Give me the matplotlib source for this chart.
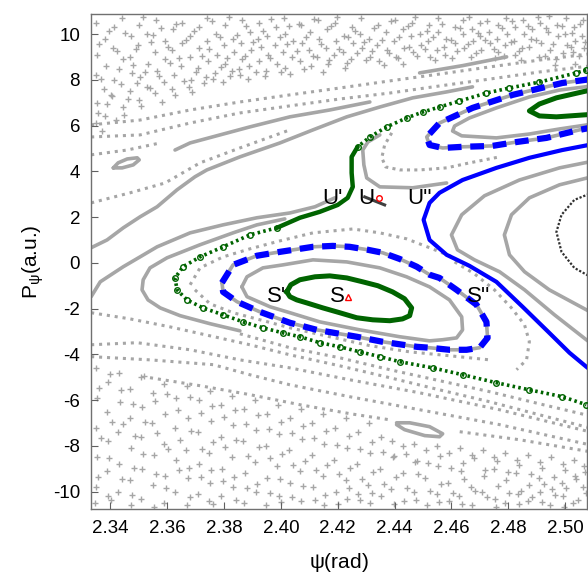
import matplotlib.pyplot as plt

# ---------------- data: psi (rad), P_psi (a.u.) ----------------
# stable island S (green)
s_psi = [2.4021, 2.4035, 2.4067, 2.4120, 2.4172, 2.4232, 2.4288, 2.4341, 2.4393, 2.4435, 2.4460,
         2.4453, 2.4428, 2.4383, 2.4323, 2.4267, 2.4207, 2.4148, 2.4091, 2.4056, 2.4032, 2.4021]
s_p = [-1.27, -0.96, -0.74, -0.61, -0.57, -0.66, -0.83, -1.00, -1.27, -1.57, -1.97,
       -2.31, -2.45, -2.53, -2.49, -2.40, -2.18, -1.97, -1.75, -1.62, -1.48, -1.27]

# blue dashed torus around S
bd_psi = [2.3793, 2.3832, 2.3916, 2.3997, 2.4113, 2.4183, 2.4242, 2.4306, 2.4358, 2.4418, 2.4478,
          2.4523, 2.4558, 2.4618, 2.4688, 2.4723, 2.4727, 2.4699, 2.4653, 2.4593, 2.4523, 2.4478,
          2.4358, 2.4267, 2.4127, 2.4032, 2.3926, 2.3846, 2.3797, 2.3793]
bd_p = [-0.87, -0.09, 0.31, 0.48, 0.70, 0.74, 0.70, 0.57, 0.44, 0.17, -0.17,
        -0.52, -0.66, -1.18, -1.83, -2.58, -3.28, -3.71, -3.80, -3.80, -3.71, -3.67,
        -3.45, -3.23, -2.93, -2.62, -2.14, -1.70, -1.27, -0.87]

# grey torus inside the blue one
gi_psi = [2.3863, 2.3881, 2.3937, 2.4007, 2.4113, 2.4232, 2.4348, 2.4442, 2.4523, 2.4593, 2.4636,
          2.4639, 2.4618, 2.4569, 2.4523, 2.4418, 2.4278, 2.4137, 2.4032, 2.3962, 2.3881, 2.3863]
gi_p = [-1.05, -0.61, -0.22, -0.09, 0.13, 0.04, -0.22, -0.61, -1.05, -1.62, -2.36,
        -2.93, -3.28, -3.36, -3.41, -3.23, -2.93, -2.58, -2.18, -1.92, -1.48, -1.05]

# green separatrix (chaotic layer through U')
sep_up_psi = [2.5074, 2.5039, 2.4909, 2.4804, 2.4723, 2.4628, 2.4558, 2.4499, 2.4442, 2.4372, 2.4313, 2.4270]
sep_up_p = [8.43, 8.30, 7.90, 7.64, 7.42, 7.07, 6.81, 6.59, 6.33, 5.94, 5.50, 5.07]
sep_core_psi = [2.4270, 2.4249, 2.4249, 2.4253, 2.4235, 2.4200, 2.4137, 2.4067, 2.3986]
sep_core_p = [5.07, 4.63, 3.93, 3.32, 2.84, 2.53, 2.23, 1.97, 1.53]
sep_lo_psi = [2.3986, 2.3891, 2.3797, 2.3716, 2.3656, 2.3628, 2.3635, 2.3670, 2.3726, 2.3797, 2.3867,
              2.3937, 2.4007, 2.4067, 2.4137, 2.4207, 2.4278, 2.4348, 2.4418, 2.4534, 2.4639, 2.4758,
              2.4874, 2.4990, 2.5074]
sep_lo_p = [1.53, 1.22, 0.70, 0.26, -0.17, -0.66, -1.18, -1.62, -1.97, -2.27, -2.58,
            -2.84, -3.06, -3.23, -3.49, -3.67, -3.89, -4.10, -4.32, -4.59, -4.89, -5.24,
            -5.55, -5.85, -6.20]

# upper right island (green), its blue dashed and grey tori
g2_psi = [2.5120, 2.5060, 2.4969, 2.4909, 2.4874, 2.4909, 2.4969, 2.5060, 2.5120]
g2_p = [7.64, 7.47, 7.21, 6.94, 6.64, 6.42, 6.38, 6.46, 6.51]
b2_psi = [2.5120, 2.4990, 2.4815, 2.4674, 2.4558, 2.4513, 2.4523, 2.4569, 2.4639, 2.4744, 2.4829,
          2.4934, 2.5050, 2.5120]
b2_p = [8.08, 7.86, 7.34, 6.77, 6.11, 5.50, 5.15, 5.02, 5.07, 5.11, 5.28, 5.46, 5.81, 5.98]
gr2_psi = [2.5120, 2.4980, 2.4874, 2.4758, 2.4663, 2.4611, 2.4604, 2.4636, 2.4758, 2.4874, 2.4980, 2.5120]
gr2_p = [7.77, 7.55, 7.25, 6.77, 6.33, 5.98, 5.76, 5.55, 5.46, 5.63, 5.85, 6.11]

# blue solid orbit through U''
bs_psi = [2.5120, 2.4990, 2.4874, 2.4758, 2.4639, 2.4558, 2.4523, 2.4502, 2.4523, 2.4583, 2.4663,
          2.4758, 2.4850, 2.4944, 2.5015, 2.5074, 2.5120]
bs_p = [5.24, 4.93, 4.59, 4.15, 3.62, 3.06, 2.62, 1.88, 1.00, 0.35, -0.13,
        -0.83, -1.92, -3.06, -3.93, -4.54, -4.98]

# grey / black orbits right of the blue one
r1_psi = [2.5120, 2.4980, 2.4839, 2.4716, 2.4636, 2.4600, 2.4621, 2.4681, 2.4769, 2.4857, 2.4962, 2.5074, 2.5120]
r1_p = [4.50, 4.15, 3.62, 2.93, 2.10, 1.22, 0.57, 0.13, -0.39, -1.18, -2.27, -3.36, -3.80]
r2_psi = [2.5120, 2.4980, 2.4874, 2.4811, 2.4786, 2.4804, 2.4857, 2.4944, 2.5074, 2.5120]
r2_p = [3.84, 3.41, 2.84, 2.10, 1.22, 0.35, -0.39, -1.18, -2.05, -2.40]
rk_psi = [2.5120, 2.5032, 2.4987, 2.4969, 2.4987, 2.5032, 2.5120]
rk_p = [3.19, 2.75, 2.10, 1.35, 0.48, -0.22, -0.83]

# grey orbits near U
h1_psi = [2.4348, 2.4306, 2.4288, 2.4292, 2.4302, 2.4348, 2.4464, 2.4583]
h1_p = [5.59, 5.28, 4.93, 4.28, 3.71, 3.32, 3.28, 3.49]
h2_psi = [2.4390, 2.4365, 2.4355, 2.4369, 2.4418, 2.4488, 2.4583, 2.4664, 2.4769]
h2_p = [5.68, 5.15, 4.59, 4.19, 4.06, 4.06, 4.15, 4.37, 4.63]

# grey orbits left / top
t1_psi = [2.3333, 2.3389, 2.3446, 2.3505, 2.3565, 2.3635, 2.3698, 2.3740, 2.3856, 2.3997, 2.4113,
          2.4232, 2.4348, 2.4464, 2.4583, 2.4674]
t1_p = [0.66, 1.00, 1.53, 2.01, 2.45, 3.19, 3.76, 4.06, 4.63, 5.24, 5.81, 6.38, 6.81, 7.21, 7.47, 7.69]
t0_psi = [2.3628, 2.3681, 2.3786, 2.3891, 2.4032, 2.4172, 2.4313]
t0_p = [4.93, 5.24, 5.59, 5.94, 6.38, 6.68, 7.03]
c_psi = [2.3333, 2.3365, 2.3446, 2.3505, 2.3565, 2.3681, 2.3797, 2.3916, 2.4032, 2.4120, 2.4190]
c_p = [-1.48, -0.83, -0.17, 0.26, 0.70, 1.31, 1.66, 1.97, 2.18, 2.45, 2.84]
d_psi = [2.4014, 2.3916, 2.3832, 2.3716, 2.3600, 2.3540, 2.3516, 2.3512, 2.3533, 2.3576, 2.3646, 2.3751, 2.3856]
d_p = [1.92, 1.66, 1.31, 0.79, 0.22, -0.22, -0.74, -1.18, -1.62, -1.97, -2.31, -2.66, -2.97]
ell_a_psi = [2.3411, 2.3428, 2.3460, 2.3495, 2.3502, 2.3481, 2.3442, 2.3411]
ell_a_p = [4.15, 4.37, 4.54, 4.59, 4.50, 4.28, 4.15, 4.15]
ell_b_psi = [2.4407, 2.4453, 2.4523, 2.4569, 2.4558, 2.4506, 2.4435, 2.4407]
ell_b_p = [-6.99, -6.99, -7.16, -7.47, -7.60, -7.55, -7.29, -7.07]
bar_psi = [2.4488, 2.4640, 2.4794]
bar_p = [8.30, 8.62, 9.00]

# chains of sparse crosses
chains = {
    'd_low': ([2.3856, 2.4032, 2.4207, 2.4383, 2.4558, 2.4734, 2.4909, 2.5085],
              [-3.10, -3.71, -4.15, -4.67, -5.15, -5.63, -6.16, -6.68]),
    'c_low': ([2.3333, 2.3470, 2.3611, 2.3751, 2.3891, 2.4032, 2.4207, 2.4383, 2.4558, 2.4734, 2.4909, 2.5085],
              [-2.18, -2.45, -2.80, -3.19, -3.58, -4.02, -4.50, -5.02, -5.55, -6.07, -6.64, -7.21]),
    'b3': ([2.3333, 2.3495, 2.3681, 2.3856, 2.4032, 2.4242, 2.4488, 2.4769, 2.5085],
           [-3.58, -3.49, -3.80, -4.24, -4.59, -5.11, -5.68, -6.42, -7.38]),
    'b4': ([2.3333, 2.3540, 2.3762, 2.3891, 2.4032, 2.4242, 2.4488, 2.4769, 2.5085],
           [-4.10, -4.24, -4.45, -4.89, -5.33, -5.85, -6.42, -7.07, -7.95]),
    'b5': ([2.3540, 2.3716, 2.3891, 2.4067, 2.4242, 2.4383],
           [-5.02, -5.37, -5.76, -6.20, -6.59, -6.86]),
    'b6': ([2.4629, 2.4839, 2.5085], [-7.38, -7.73, -8.25]),
    'd1': ([2.3333, 2.3470, 2.3593, 2.3716, 2.3856, 2.4032], [2.62, 3.06, 3.49, 4.37, 5.02, 5.81]),
    'd2': ([2.3333, 2.3460, 2.3576], [4.72, 4.93, 5.24]),
    'd3': ([2.3333, 2.3505, 2.3681, 2.3856, 2.4032, 2.4207, 2.4383, 2.4558, 2.4734, 2.4909, 2.5085],
           [5.50, 5.59, 6.11, 6.55, 6.86, 7.16, 7.42, 7.73, 8.03, 8.34, 8.60]),
    'd4': ([2.3333, 2.3505, 2.3681, 2.3856, 2.4032, 2.4207, 2.4383, 2.4558, 2.4734, 2.4909, 2.5085],
           [6.03, 6.24, 6.68, 7.03, 7.34, 7.64, 7.95, 8.25, 8.56, 8.86, 9.13]),
    'ic_top': ([2.3681, 2.3716, 2.3797, 2.3891, 2.3997, 2.4113, 2.4253, 2.4348, 2.4442, 2.4523, 2.4611],
               [-0.96, -0.22, 0.26, 0.61, 0.96, 1.31, 1.48, 1.31, 1.05, 0.66, 0.22]),
    'ic_bot': ([2.3698, 2.3751, 2.3832, 2.3927, 2.4032, 2.4172, 2.4313, 2.4453, 2.4593, 2.4734],
               [-1.18, -1.79, -2.18, -2.49, -2.84, -3.23, -3.62, -3.89, -4.06, -4.24]),
    'r_side': ([2.4611, 2.4681, 2.4751, 2.4811, 2.4857, 2.4874, 2.4864, 2.4829],
               [0.04, -0.48, -1.18, -1.97, -2.71, -3.45, -4.24, -4.67]),
}

# chaotic sea, upper part
sea_top = [
    (2.3350, 10.5), (2.3352, 9.1), (2.3349, 8.2), (2.3355, 7.0), (2.3351, 6.1),
    (2.3381, 9.8), (2.3384, 8.6), (2.3378, 7.6), (2.3383, 6.4),
    (2.3412, 10.3), (2.3409, 9.4), (2.3414, 8.0), (2.3407, 7.3),
    (2.3441, 10.7), (2.3446, 8.9), (2.3439, 7.8), (2.3444, 6.8),
    (2.3472, 9.9), (2.3468, 9.0), (2.3475, 8.3), (2.3470, 7.5),
    (2.3503, 10.4), (2.3499, 9.5), (2.3506, 8.1), (2.3501, 7.1),
    (2.3531, 10.0), (2.3534, 8.7), (2.3528, 7.7),
    (2.3562, 10.6), (2.3559, 9.2), (2.3565, 8.4), (2.3557, 7.4),
    (2.3591, 9.7), (2.3594, 8.9), (2.3588, 7.9),
    (2.3622, 10.2), (2.3619, 9.3), (2.3625, 8.2), (2.3617, 7.6),
    (2.3651, 10.5), (2.3654, 9.6), (2.3648, 8.6),
    (2.3682, 9.9), (2.3679, 9.0), (2.3685, 8.0), (2.3677, 7.7),
    (2.3711, 10.3), (2.3714, 9.4), (2.3708, 8.5),
    (2.3742, 10.7), (2.3739, 9.7), (2.3745, 8.8), (2.3737, 8.1),
    (2.3771, 10.0), (2.3774, 9.1), (2.3768, 8.3),
    (2.3802, 10.4), (2.3799, 9.5), (2.3805, 8.7), (2.3797, 7.9),
    (2.3831, 9.8), (2.3834, 9.2), (2.3828, 8.4),
    (2.3862, 10.6), (2.3859, 9.6), (2.3865, 8.9), (2.3857, 8.2),
    (2.3891, 10.1), (2.3894, 9.3), (2.3888, 8.6),
    (2.3922, 10.5), (2.3919, 9.8), (2.3925, 8.8),
    (2.3951, 9.9), (2.3954, 9.1), (2.3948, 8.4),
    (2.3982, 10.3), (2.3979, 9.5), (2.3985, 8.7),
    (2.4011, 10.7), (2.4014, 10.0), (2.4008, 9.2), (2.4016, 8.5),
    (2.4042, 9.7), (2.4039, 9.0),
    (2.4071, 10.4), (2.4074, 9.6), (2.4068, 8.8),
    (2.4102, 10.1), (2.4099, 9.3), (2.4105, 8.6),
    (2.4131, 10.6), (2.4134, 9.8), (2.4128, 9.0),
    (2.4162, 10.2), (2.4159, 9.4), (2.4165, 8.7),
    (2.4191, 10.5), (2.4194, 9.7), (2.4188, 9.1),
    (2.4222, 9.9), (2.4219, 9.2), (2.4225, 8.5),
    (2.4251, 10.3), (2.4254, 9.6), (2.4248, 8.9),
    (2.4282, 10.7), (2.4279, 10.0), (2.4285, 9.4),
    (2.4311, 9.8), (2.4314, 9.0),
    (2.4342, 10.4), (2.4339, 9.5), (2.4345, 8.8),
    (2.4371, 10.1), (2.4374, 9.3),
    (2.4402, 10.6), (2.4399, 9.7), (2.4405, 9.0),
    (2.4431, 10.2), (2.4434, 9.4), (2.4428, 8.7),
    (2.4462, 10.5), (2.4459, 9.9), (2.4465, 9.2),
    (2.4491, 10.0), (2.4494, 9.5),
    (2.4522, 10.4), (2.4519, 9.7), (2.4525, 9.0),
    (2.4551, 10.7), (2.4554, 10.1), (2.4548, 9.3),
    (2.4582, 9.8), (2.4579, 9.1),
    (2.4611, 10.3), (2.4614, 9.6),
    (2.4642, 10.6), (2.4639, 10.0), (2.4645, 9.4),
    (2.4671, 10.2), (2.4674, 9.7), (2.4668, 9.0),
    (2.4702, 10.5), (2.4699, 9.9), (2.4705, 9.3),
    (2.4731, 10.1), (2.4734, 9.6),
    (2.4762, 10.4), (2.4759, 9.8), (2.4765, 9.2),
    (2.4791, 10.7), (2.4794, 10.0), (2.4788, 9.5),
    (2.4822, 10.3), (2.4819, 9.7), (2.4825, 9.1),
    (2.4851, 10.6), (2.4854, 10.0), (2.4848, 9.4),
    (2.4882, 10.2), (2.4879, 9.8),
    (2.4911, 10.5), (2.4914, 9.6), (2.4908, 9.0),
    (2.4942, 10.8), (2.4939, 10.1), (2.4945, 9.3),
    (2.4971, 10.4), (2.4974, 9.9), (2.4968, 8.9),
    (2.5002, 10.7), (2.4999, 10.0), (2.5005, 9.5),
    (2.5031, 10.3), (2.5034, 9.7), (2.5028, 9.2), (2.5033, 8.7),
    (2.5062, 10.6), (2.5059, 9.9), (2.5065, 9.4),
]
sea_top2 = [
    (2.3362, 9.55), (2.3369, 8.05), (2.3358, 6.55), (2.3371, 5.75),
    (2.3397, 10.15), (2.3402, 7.35), (2.3390, 6.95),
    (2.3423, 9.25), (2.3431, 8.45), (2.3419, 6.25),
    (2.3453, 10.05), (2.3461, 7.15), (2.3449, 6.45),
    (2.3489, 9.35), (2.3481, 8.65), (2.3494, 7.85),
    (2.3514, 10.75), (2.3522, 8.35), (2.3509, 6.85),
    (2.3543, 9.65), (2.3551, 9.95), (2.3539, 7.65),
    (2.3579, 10.25), (2.3572, 8.15), (2.3583, 7.05),
    (2.3604, 9.45), (2.3611, 8.75),
    (2.3633, 10.45), (2.3641, 8.95), (2.3628, 7.35),
    (2.3667, 9.75), (2.3659, 7.95),
    (2.3695, 10.15), (2.3702, 8.35), (2.3689, 7.45),
    (2.3722, 9.05), (2.3731, 7.85),
    (2.3758, 10.55), (2.3749, 9.35), (2.3763, 8.05),
    (2.3785, 9.85), (2.3791, 8.55),
    (2.3818, 10.75), (2.3811, 8.95), (2.3822, 8.15),
    (2.3846, 9.95), (2.3852, 8.45),
    (2.3879, 10.35), (2.3873, 9.05), (2.3883, 8.05),
    (2.3902, 9.65), (2.3911, 8.35),
    (2.3938, 10.15), (2.3931, 9.45), (2.3943, 8.15),
    (2.3967, 10.65), (2.3961, 8.95),
    (2.3997, 9.85), (2.4002, 8.35),
    (2.4029, 10.35), (2.4021, 9.55), (2.4033, 8.25),
    (2.4057, 9.25), (2.4063, 10.45),
    (2.4089, 9.85), (2.4083, 8.45),
    (2.4118, 10.65), (2.4112, 9.05),
    (2.4143, 9.55), (2.4150, 8.35),
    (2.4177, 10.35), (2.4171, 8.85),
    (2.4206, 9.35), (2.4199, 10.75),
    (2.4237, 9.85), (2.4231, 8.75),
    (2.4262, 10.15), (2.4268, 9.15),
    (2.4293, 9.65), (2.4299, 8.85),
    (2.4327, 10.25), (2.4321, 9.25),
    (2.4356, 9.75), (2.4362, 8.65),
    (2.4388, 10.55), (2.4381, 9.15),
    (2.4417, 9.85), (2.4411, 8.95),
    (2.4447, 10.35), (2.4452, 9.45),
    (2.4478, 9.05), (2.4472, 10.75),
    (2.4507, 9.35), (2.4513, 10.15),
    (2.4536, 9.85), (2.4541, 8.85),
    (2.4567, 10.45), (2.4573, 9.45),
    (2.4597, 9.75), (2.4602, 8.95),
    (2.4629, 10.25), (2.4621, 9.25),
    (2.4658, 9.55), (2.4663, 10.75),
    (2.4688, 9.15), (2.4693, 10.05),
    (2.4719, 9.75), (2.4724, 10.55),
    (2.4748, 9.35), (2.4753, 8.95),
    (2.4779, 10.25), (2.4784, 9.05),
    (2.4809, 9.65), (2.4813, 10.55),
    (2.4838, 9.25), (2.4843, 8.85),
    (2.4869, 10.35), (2.4873, 9.45),
    (2.4898, 9.75), (2.4903, 10.75),
    (2.4928, 9.05), (2.4933, 10.25),
    (2.4958, 9.55), (2.4963, 8.65),
    (2.4989, 10.35), (2.4993, 9.15),
    (2.5019, 9.45), (2.5023, 10.05),
    (2.5049, 9.05), (2.5053, 10.45),
    (2.5071, 9.65),
]

# chaotic sea, lower part
sea_bot = [
    (2.3350, -4.6), (2.3352, -5.9), (2.3349, -7.2), (2.3353, -8.5), (2.3351, -9.8), (2.3348, -10.5),
    (2.3391, -5.2), (2.3388, -6.5), (2.3393, -7.8), (2.3389, -9.1), (2.3392, -10.2),
    (2.3430, -4.8), (2.3433, -6.1), (2.3428, -7.4), (2.3432, -8.8), (2.3429, -10.0),
    (2.3471, -5.5), (2.3468, -6.8), (2.3473, -8.1), (2.3469, -9.5), (2.3472, -10.6),
    (2.3510, -5.0), (2.3513, -6.3), (2.3508, -7.6), (2.3512, -9.0), (2.3509, -10.3),
    (2.3551, -5.7), (2.3548, -7.0), (2.3553, -8.4), (2.3549, -9.7),
    (2.3590, -5.3), (2.3593, -6.6), (2.3588, -7.9), (2.3592, -9.3), (2.3589, -10.5),
    (2.3631, -5.9), (2.3628, -7.2), (2.3633, -8.6), (2.3629, -10.0),
    (2.3670, -5.4), (2.3673, -6.8), (2.3668, -8.2), (2.3672, -9.4), (2.3669, -10.6),
    (2.3711, -6.0), (2.3708, -7.4), (2.3713, -8.8), (2.3709, -10.1),
    (2.3750, -5.6), (2.3753, -6.9), (2.3748, -8.3), (2.3752, -9.6), (2.3749, -10.4),
    (2.3791, -6.2), (2.3788, -7.6), (2.3793, -9.0), (2.3789, -10.2),
    (2.3830, -5.8), (2.3833, -7.1), (2.3828, -8.5), (2.3832, -9.8),
    (2.3871, -6.4), (2.3868, -7.8), (2.3873, -9.2), (2.3869, -10.5),
    (2.3910, -6.0), (2.3913, -7.3), (2.3908, -8.7), (2.3912, -10.0),
    (2.3951, -6.6), (2.3948, -8.0), (2.3953, -9.4), (2.3949, -10.6),
    (2.3990, -6.2), (2.3993, -7.5), (2.3988, -8.9), (2.3992, -10.2),
    (2.4031, -6.8), (2.4028, -8.2), (2.4033, -9.6),
    (2.4070, -6.4), (2.4073, -7.7), (2.4068, -9.1), (2.4072, -10.4),
    (2.4111, -7.0), (2.4108, -8.4), (2.4113, -9.8),
    (2.4150, -6.6), (2.4153, -7.9), (2.4148, -9.3), (2.4152, -10.6),
    (2.4191, -7.2), (2.4188, -8.6), (2.4193, -10.0),
    (2.4230, -6.8), (2.4233, -8.1), (2.4228, -9.5), (2.4232, -10.3),
    (2.4271, -7.4), (2.4268, -8.8), (2.4273, -10.1),
    (2.4310, -7.0), (2.4313, -8.3), (2.4308, -9.7), (2.4312, -10.5),
    (2.4351, -7.6), (2.4348, -9.0), (2.4353, -10.2),
    (2.4390, -7.8), (2.4393, -8.5), (2.4388, -9.9),
    (2.4431, -8.0), (2.4428, -9.2), (2.4433, -10.4),
    (2.4470, -7.9), (2.4473, -8.7), (2.4468, -10.0),
    (2.4511, -8.2), (2.4508, -9.4), (2.4513, -10.6),
    (2.4550, -8.0), (2.4553, -8.9), (2.4548, -10.1),
    (2.4591, -8.3), (2.4588, -9.6), (2.4593, -10.4),
    (2.4630, -8.1), (2.4633, -9.1), (2.4628, -10.2),
    (2.4671, -8.4), (2.4668, -9.8), (2.4673, -10.6),
    (2.4710, -8.2), (2.4713, -9.3), (2.4708, -10.0),
    (2.4751, -8.5), (2.4748, -9.0), (2.4753, -10.3),
    (2.4790, -8.3), (2.4793, -9.5), (2.4788, -10.5),
    (2.4831, -8.6), (2.4828, -9.2), (2.4833, -10.1),
    (2.4870, -8.4), (2.4873, -9.7), (2.4868, -10.4),
    (2.4911, -8.7), (2.4908, -9.4), (2.4913, -10.0),
    (2.4950, -8.5), (2.4953, -9.9), (2.4948, -10.6),
    (2.4991, -8.8), (2.4988, -9.6), (2.4993, -10.2),
    (2.5030, -8.6), (2.5033, -9.3), (2.5028, -10.5),
    (2.5067, -8.9), (2.5064, -9.8),
]
sea_bot2 = [
    (2.3361, -5.45), (2.3369, -7.65), (2.3358, -9.35),
    (2.3399, -4.85), (2.3405, -6.95), (2.3395, -8.55), (2.3402, -10.35),
    (2.3437, -5.55), (2.3445, -7.05), (2.3441, -9.45),
    (2.3479, -6.15), (2.3486, -7.55), (2.3482, -8.95), (2.3477, -10.15),
    (2.3519, -4.95), (2.3523, -6.95), (2.3516, -8.35),
    (2.3557, -6.05), (2.3564, -7.45), (2.3561, -9.25), (2.3555, -10.65),
    (2.3598, -5.75), (2.3603, -8.15), (2.3596, -9.85),
    (2.3639, -6.45), (2.3645, -7.75), (2.3642, -9.05),
    (2.3679, -5.85), (2.3684, -7.35), (2.3677, -8.95), (2.3682, -10.25),
    (2.3718, -6.55), (2.3724, -8.15), (2.3721, -9.35),
    (2.3759, -6.25), (2.3763, -7.85), (2.3756, -9.05), (2.3761, -10.55),
    (2.3799, -6.75), (2.3804, -8.05), (2.3797, -9.55),
    (2.3839, -6.45), (2.3843, -7.75), (2.3837, -9.35), (2.3841, -10.35),
    (2.3878, -7.05), (2.3884, -8.45), (2.3881, -9.85),
    (2.3919, -6.65), (2.3924, -8.05), (2.3917, -9.65),
    (2.3958, -7.25), (2.3963, -8.55), (2.3961, -10.05),
    (2.3999, -6.95), (2.4004, -8.35), (2.3997, -9.45), (2.4002, -10.45),
    (2.4039, -7.45), (2.4044, -8.85), (2.4041, -10.25),
    (2.4079, -7.15), (2.4084, -8.65), (2.4077, -9.75),
    (2.4118, -7.65), (2.4124, -9.05), (2.4121, -10.35),
    (2.4159, -7.35), (2.4163, -8.85), (2.4157, -10.15),
    (2.4199, -7.95), (2.4204, -9.25), (2.4201, -10.55),
    (2.4238, -7.55), (2.4243, -8.95), (2.4241, -9.85),
    (2.4279, -8.15), (2.4284, -9.45), (2.4277, -10.35),
    (2.4319, -7.85), (2.4324, -9.15), (2.4321, -10.05),
    (2.4358, -8.25), (2.4363, -9.65),
    (2.4399, -8.45), (2.4404, -9.35), (2.4397, -10.55),
    (2.4439, -8.35), (2.4444, -9.85),
    (2.4479, -8.65), (2.4484, -9.25), (2.4477, -10.35),
    (2.4519, -8.75), (2.4524, -9.95),
    (2.4559, -8.45), (2.4564, -9.65), (2.4557, -10.45),
    (2.4599, -8.95), (2.4604, -10.05),
    (2.4639, -8.75), (2.4644, -9.45), (2.4637, -10.55),
    (2.4679, -8.55), (2.4684, -9.95),
    (2.4719, -9.05), (2.4724, -10.25),
    (2.4759, -8.65), (2.4764, -9.75), (2.4757, -10.65),
    (2.4799, -9.15), (2.4804, -10.05),
    (2.4839, -8.85), (2.4844, -9.95), (2.4837, -10.55),
    (2.4879, -9.25), (2.4884, -10.25),
    (2.4919, -8.95), (2.4924, -9.65), (2.4917, -10.45),
    (2.4959, -9.35), (2.4964, -10.15),
    (2.4999, -9.05), (2.5004, -9.85), (2.4997, -10.65),
    (2.5039, -9.45), (2.5044, -10.35),
    (2.5069, -9.15), (2.5072, -10.05),
]

# fixed points and labels
s_point = (2.4235, -1.48)
u_point = (2.4344, 2.84)
u_arm_psi = [2.4295, 2.4365]
u_arm_p = [2.88, 2.53]
labels = ["U'", "U", "U''", "S'", "S", "S''"]
label_psi = [2.4183, 2.4302, 2.4488, 2.3986, 2.4200, 2.4695]
label_p = [2.80, 2.80, 2.80, -1.48, -1.48, -1.48]

xticks = [2.34, 2.36, 2.38, 2.40, 2.42, 2.44, 2.46, 2.48, 2.50]
yticks = [-10, -8, -6, -4, -2, 0, 2, 4, 6, 8, 10]

# ---------------- plot ----------------
plt.rcParams['font.family'] = ['Liberation Sans', 'DejaVu Sans']
plt.rcParams['axes.unicode_minus'] = False
GREY = '#a6a6a6'
GREEN = '#006400'
BLUE = '#0000ff'

fig = plt.figure(figsize=(5.88, 5.73), dpi=100)
ax = fig.add_axes([0.155, 0.112, 0.8435, 0.8634])

# chaotic sea
for sea in (sea_top, sea_top2, sea_bot, sea_bot2):
    ax.plot([p[0] for p in sea], [p[1] for p in sea], '+', color=GREY, ms=5, mew=1.0, zorder=1)
for cx, cy in chains.values():
    ax.plot(cx, cy, color=GREY, lw=2.2, ls=(0, (1.0, 1.6)), zorder=1)

# regular grey orbits
for gx, gy in [(gi_psi, gi_p), (bd_psi, bd_p), (gr2_psi, gr2_p), (b2_psi, b2_p),
               (r1_psi, r1_p), (r2_psi, r2_p), (h1_psi, h1_p), (t1_psi, t1_p),
               (t0_psi, t0_p), (c_psi, c_p), (d_psi, d_p), (ell_a_psi, ell_a_p),
               (ell_b_psi, ell_b_p), (bar_psi, bar_p)]:
    ax.plot(gx, gy, color=GREY, lw=2.6, zorder=2, solid_capstyle='round')
ax.plot(h2_psi, h2_p, color=GREY, lw=2.2, ls=(0, (1.0, 1.4)), zorder=2)
ax.plot(rk_psi, rk_p, color='#303030', lw=1.6, ls=(0, (1.0, 0.8)), zorder=2)

# separatrix layer (green circles)
for sx, sy in [(sep_up_psi, sep_up_p), (sep_lo_psi, sep_lo_p)]:
    ax.plot(sx, sy, color=GREEN, lw=2.6, ls=(0, (0.7, 0.9)), zorder=3)
    ax.plot(sx, sy, 'o', color=GREEN, ms=4, mfc='none', mew=1.0, zorder=3)
ax.plot(sep_core_psi, sep_core_p, color=GREEN, lw=3.2, zorder=3, solid_capstyle='round')

# blue orbits
ax.plot(bd_psi, bd_p, color=BLUE, lw=4.5, ls=(0, (2.2, 1.4)), zorder=4)
ax.plot(b2_psi, b2_p, color=BLUE, lw=4.5, ls=(0, (2.2, 1.4)), zorder=4)
ax.plot(bs_psi, bs_p, color=BLUE, lw=3.0, zorder=4)

# green islands
ax.plot(s_psi, s_p, color=GREEN, lw=3.6, zorder=5)
ax.plot(g2_psi, g2_p, color=GREEN, lw=3.6, zorder=5)

# fixed points
ax.plot(u_arm_psi, u_arm_p, color='#404040', lw=2.2, zorder=6)
ax.plot(*s_point, marker='^', color='red', ms=4.5, mfc='none', mew=1.0, zorder=7)
ax.plot(*u_point, marker='o', color='red', ms=4, mfc='none', mew=1.0, zorder=7)
for t, lx, ly in zip(labels, label_psi, label_p):
    ax.text(lx, ly, t, fontsize=16, ha='center', va='center', zorder=8)

ax.set_xlim(2.3333, 2.5077)
ax.set_ylim(-10.75, 10.87)
ax.set_xticks(xticks)
ax.set_xticklabels([f'{v:.2f}' for v in xticks])
ax.set_yticks(yticks)
ax.tick_params(direction='in', length=5, labelsize=13.5, color='#606060', pad=8)
for sp in ax.spines.values():
    sp.set_color('#707070')
    sp.set_linewidth(1.0)
ax.set_xlabel(r'$\mathregular{\psi}$(rad)', fontsize=15, labelpad=10)
ax.set_ylabel(r'P$_{\mathregular{\psi}}$(a.u.)', fontsize=15, labelpad=5)

fig.savefig('out.png', dpi=100)
